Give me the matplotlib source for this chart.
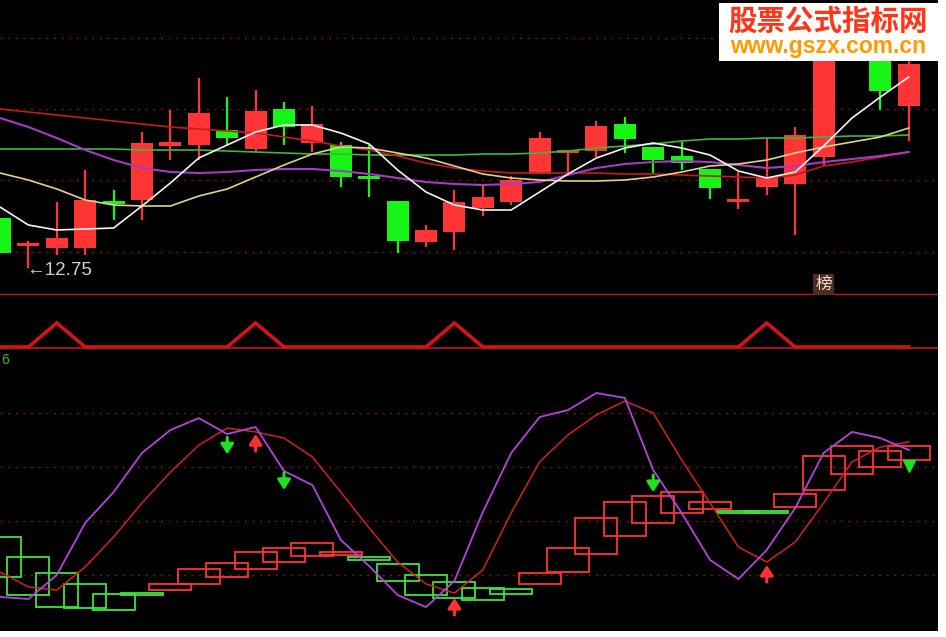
import matplotlib
matplotlib.use('Agg')
import matplotlib.pyplot as plt
from matplotlib.patches import Rectangle

plt.rcParams['font.family'] = ['Liberation Sans', 'DejaVu Sans']

# ---- price panel (daily candles + moving averages) ----
opens = [13.25, 12.97, 12.95, 12.95, 13.41, 13.43, 13.97, 13.98, 14.13, 13.94, 14.34,
         14.00, 13.98, 13.67, 13.42, 13.01, 13.11, 13.35, 13.41, 13.69, 13.90, 13.92,
         14.19, 13.96, 13.87, 13.74, 13.41, 13.56, 13.59, 13.86, 14.98, 15.13, 14.37]
highs = [13.25, 13.02, 13.41, 13.73, 13.53, 14.11, 14.33, 14.65, 14.46, 14.53, 14.41,
         14.37, 14.01, 13.98, 13.42, 13.18, 13.53, 13.58, 13.67, 14.11, 13.93, 14.22,
         14.26, 13.96, 14.01, 13.74, 13.71, 14.05, 14.16, 15.13, 15.33, 15.23, 14.85]
lows = [12.90, 12.75, 12.88, 12.88, 13.23, 13.23, 13.83, 13.83, 13.98, 13.91, 13.98,
        13.91, 13.56, 13.46, 12.90, 12.96, 12.93, 13.27, 13.38, 13.69, 13.68, 13.86,
        13.90, 13.70, 13.73, 13.44, 13.34, 13.48, 13.08, 13.77, 14.93, 14.33, 14.02]
closes = [12.90, 13.00, 13.05, 13.43, 13.39, 14.00, 14.01, 14.30, 14.05, 14.32, 14.16,
          14.19, 13.66, 13.64, 13.02, 13.13, 13.41, 13.46, 13.63, 14.05, 13.93, 14.17,
          14.04, 13.83, 13.80, 13.55, 13.44, 13.66, 14.08, 15.03, 15.23, 14.52, 14.79]

ma_white = [13.36, 13.18, 13.13, 13.14, 13.15, 13.37, 13.60, 13.85, 13.98, 14.11, 14.18,
            14.18, 14.10, 13.99, 13.73, 13.51, 13.38, 13.33, 13.33, 13.51, 13.69, 13.85,
            13.95, 14.00, 13.95, 13.88, 13.72, 13.65, 13.71, 13.97, 14.25, 14.46, 14.66]
ma_yellow = [13.70, 13.63, 13.54, 13.43, 13.38, 13.37, 13.37, 13.47, 13.54, 13.66, 13.78,
             13.89, 13.96, 13.95, 13.90, 13.85, 13.77, 13.69, 13.65, 13.63, 13.62, 13.62,
             13.63, 13.66, 13.71, 13.77, 13.79, 13.83, 13.90, 13.96, 14.01, 14.06, 14.15]
ma_purple = [14.25, 14.16, 14.05, 13.93, 13.83, 13.75, 13.71, 13.70, 13.71, 13.73, 13.74,
             13.74, 13.72, 13.69, 13.65, 13.61, 13.59, 13.58, 13.59, 13.61, 13.68, 13.75,
             13.79, 13.81, 13.82, 13.81, 13.78, 13.75, 13.77, 13.81, 13.84, 13.87, 13.91]
ma_red = [14.34, 14.31, 14.28, 14.25, 14.22, 14.19, 14.16, 14.14, 14.12, 14.10, 14.06,
          14.02, 13.97, 13.93, 13.87, 13.80, 13.75, 13.72, 13.70, 13.70, 13.70, 13.70,
          13.69, 13.69, 13.68, 13.67, 13.66, 13.65, 13.68, 13.77, 13.81, 13.86, 13.91]
ma_green = [13.94, 13.94, 13.94, 13.94, 13.94, 13.93, 13.93, 13.93, 13.92, 13.91, 13.90,
            13.89, 13.89, 13.88, 13.88, 13.88, 13.88, 13.89, 13.89, 13.90, 13.92, 13.95,
            13.97, 13.99, 14.02, 14.04, 14.04, 14.05, 14.05, 14.06, 14.07, 14.07, 14.08]
price_grid = [12.91, 13.63, 14.34, 15.05]

# ---- signal panel ----
signal = [0, 0, 1, 0, 0, 0, 0, 0, 0, 1, 0, 0, 0, 0, 0, 0, 1, 0, 0, 0, 0, 0,
          0, 0, 0, 0, 0, 1, 0, 0, 0, 0, 0]

# ---- oscillator panel ----
osc_purple = [11.9, 11.1, 20.0, 39.3, 50.7, 65.2, 73.7, 78.1, 72.2, 74.8, 58.5,
              53.3, 33.0, 23.3, 12.6, 8.1, 17.8, 43.3, 65.2, 78.5, 81.1, 87.4,
              85.6, 58.9, 43.0, 25.6, 18.5, 29.3, 44.8, 65.2, 73.0, 70.7, 66.3]
osc_red = [21.1, 15.6, 14.4, 23.0, 34.1, 46.7, 58.1, 68.1, 74.4, 73.0, 70.7,
           63.7, 50.7, 37.4, 24.8, 16.7, 13.3, 21.9, 43.0, 61.9, 71.9, 79.3,
           84.4, 80.0, 62.6, 46.7, 30.4, 24.8, 32.2, 46.7, 61.9, 67.4, 69.3]
box_top = [34.1, 26.7, 20.7, 16.7, 13.0, 13.4, 16.7, 22.2, 24.4, 28.5, 30.0,
           31.9, 28.5, 26.7, 24.1, 20.0, 17.4, 15.2, 14.8, 20.7, 30.0, 41.1,
           47.0, 49.3, 50.7, 47.0, 43.7, 43.7, 50.0, 64.1, 67.8, 65.9, 67.8]
box_bot = [19.3, 12.6, 8.1, 7.8, 7.0, 12.6, 14.4, 16.7, 19.3, 22.2, 24.8,
           27.0, 27.4, 25.6, 17.8, 12.6, 11.5, 10.7, 13.0, 16.7, 21.1, 27.8,
           34.4, 39.3, 43.0, 44.4, 43.0, 43.0, 45.2, 51.5, 57.4, 60.0, 62.6]
box_dir = "GGGGGG" + "RRRRRRR" + "GGGGGG" + "RRRRRRR" + "GG" + "RRRRR"
osc_grid = [20, 40, 60, 80]
sell_idx = [8, 10, 23]
sell_from = [71.0, 57.8, 57.0]
buy_idx = [9, 16, 27]
buy_from = [65.9, 5.2, 17.4]
last_sell_idx = 32
last_sell_val = 60.5

N = len(closes)
xs = list(range(N))

RED = '#ff3434'
GREEN = '#16f516'
GRID = '#8a1414'
W, H = 946, 637

fig = plt.figure(figsize=(W / 100, H / 100), dpi=100, facecolor='white')


def px_axes(top, bottom):
    return fig.add_axes([0, (H - bottom) / H, 938 / W, (bottom - top) / H])


ax1 = px_axes(0, 295)
ax2 = px_axes(295, 349)
ax3 = px_axes(349, 631)
for ax in (ax1, ax2, ax3):
    ax.set_facecolor('black')
    ax.set_xlim(0, 938 / 28.4)
    ax.set_xticks([])
    ax.set_yticks([])
    for s in ax.spines.values():
        s.set_visible(False)

# price panel
ax1.set_ylim(12.48, 15.43)
for g in price_grid:
    ax1.axhline(g, color=GRID, lw=1, ls=(0, (1.5, 4)))
cols = [RED if c >= o else GREEN for o, c in zip(opens, closes)]
ax1.vlines(xs, lows, highs, colors=cols, lw=1.6, zorder=2)
body_lo = [min(o, c) for o, c in zip(opens, closes)]
body_h = [max(abs(c - o), 0.025) for o, c in zip(opens, closes)]
ax1.bar(xs, body_h, bottom=body_lo, width=0.78, color=cols, zorder=3)
ax1.plot(xs, ma_green, color='#3cb83c', lw=1.2, zorder=4)
ax1.plot(xs, ma_red, color='#c41c1c', lw=1.2, zorder=4)
ax1.plot(xs, ma_purple, color='#a43cc4', lw=1.5, zorder=4)
ax1.plot(xs, ma_yellow, color='#dcd38c', lw=1.2, zorder=5)
ax1.plot(xs, ma_white, color='#f4f4f4', lw=1.2, zorder=6)
ax1.axhline(12.48, color='#c81414', lw=2.5, zorder=7)
lo_i = lows.index(min(lows))
ax1.annotate('\u2190' + f'{lows[lo_i]:.2f}', xy=(lo_i, lows[lo_i]), xytext=(-1.5, -2),
             textcoords='offset points', ha='left', va='center',
             color='#cfcfcf', fontsize=13.5)
ax1.text(29, 12.50, '榜', family=['Noto Sans CJK SC', 'DejaVu Sans'], fontsize=12,
         color='#f4dcd0', ha='center', va='bottom', zorder=8,
         bbox=dict(boxstyle='square,pad=0.12', fc='#4e2c20', ec='none'))

# signal panel
ax2.set_ylim(-0.083, 2.167)
ax2.plot(xs, signal, color='#d41414', lw=2.6, solid_joinstyle='miter')
ax2.axhline(-0.06, color='#c81414', lw=1.2)

# oscillator panel
ax3.set_ylim(-0.74, 103.7)
for g in osc_grid:
    ax3.axhline(g, color=GRID, lw=1, ls=(0, (1.5, 4)))
for i in xs:
    ec = RED if box_dir[i] == 'R' else '#3ce43c'
    ax3.bar(i, box_top[i] - box_bot[i], bottom=box_bot[i], width=1.48,
            fill=False, edgecolor=ec, lw=1.3, zorder=2)
ax3.plot(xs, osc_red, color='#d42020', lw=1.1, zorder=3)
ax3.plot(xs, osc_purple, color='#b444dc', lw=1.3, zorder=3)
for i, v in zip(sell_idx, sell_from):
    ax3.annotate('', xy=(i, v - 6.3), xytext=(i, v),
                 arrowprops=dict(arrowstyle='-|>,head_width=0.32,head_length=0.5',
                                 color='#20e020', lw=2.2, mutation_scale=12,
                                 shrinkA=0, shrinkB=0), zorder=5)
for i, v in zip(buy_idx, buy_from):
    ax3.annotate('', xy=(i, v + 6.3), xytext=(i, v),
                 arrowprops=dict(arrowstyle='-|>,head_width=0.32,head_length=0.5',
                                 color='#ff3030', lw=2.2, mutation_scale=12,
                                 shrinkA=0, shrinkB=0), zorder=5)
ax3.plot(last_sell_idx, last_sell_val, marker='v', ms=8, color='#20e020', zorder=5)
ax3.text(0.001, 0.985, '6', transform=ax3.transAxes, color='#30c030',
         fontsize=10, ha='left', va='top')

# watermark box
fig.patches.append(Rectangle((719 / W, (H - 61) / H), 220 / W, 58 / H,
                             transform=fig.transFigure, facecolor='white',
                             edgecolor='none', zorder=10))
fig.text(828 / W, (H - 22) / H, '股票公式指标网', family=['Noto Sans CJK SC', 'DejaVu Sans'],
         fontsize=20.5, fontweight='bold', color='#ff3418', ha='center', va='center',
         zorder=11)
fig.text(828 / W, (H - 53) / H, 'www.gszx.com.cn', fontsize=16.5, fontweight='bold',
         color='#ff9a00', ha='center', va='baseline', zorder=11)

fig.savefig('out.png', dpi=100, facecolor='white')
